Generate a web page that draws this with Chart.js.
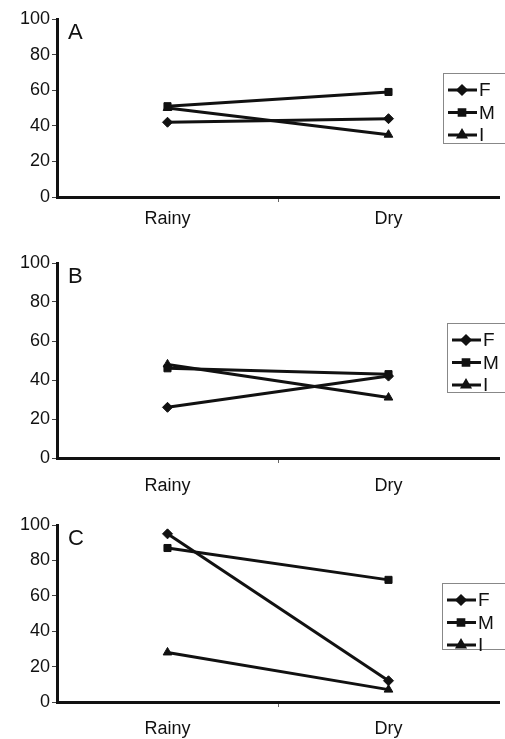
<!DOCTYPE html>
<html>
<head>
<meta charset="utf-8">
<script src="https://cdn.jsdelivr.net/npm/chart.js@4.4.0/dist/chart.umd.min.js"></script>
<style>
body{margin:0;background:#fff;}
canvas{position:absolute;left:0;}
</style>
</head>
<body>
<canvas id="chartA" width="505" height="245" style="top:0"></canvas>
<canvas id="chartB" width="505" height="262" style="top:240px"></canvas>
<canvas id="chartC" width="505" height="244" style="top:495px"></canvas>
<script>
const seasons = ['Rainy', 'Dry'];
const seriesNames = ['F', 'M', 'I'];
const yTicks = [0, 20, 40, 60, 80, 100];

const panelA_F = [42, 44];
const panelA_M = [51, 59];
const panelA_I = [50, 35];

const panelB_F = [26, 42];
const panelB_M = [46, 43];
const panelB_I = [48, 31];

const panelC_F = [95, 12];
const panelC_M = [87, 69];
const panelC_I = [28, 7];

const markers = ['rectRot', 'rect', 'triangle'];
const FONT = '"Liberation Sans", Arial, sans-serif';

// draws the boxed legend and the panel letter
const panelDeco = {
  id: 'panelDeco',
  afterDraw(chart, args, opts) {
    const c = chart.ctx;
    const area = chart.chartArea;
    c.save();
    c.fillStyle = '#111';
    c.font = '22px ' + FONT;
    c.textBaseline = 'middle';
    c.fillText(opts.letter, area.left + 11, area.top + 14);

    const b = opts.box;
    c.strokeStyle = '#888';
    c.lineWidth = 1;
    c.strokeRect(b.x + 0.5, b.y + 0.5, b.w, b.h);
    c.font = '19px ' + FONT;
    chart.data.datasets.forEach((ds, i) => {
      const y = b.y + 17 + i * 22.5;
      c.strokeStyle = '#111';
      c.lineWidth = 3;
      c.beginPath();
      c.moveTo(b.x + 5, y);
      c.lineTo(b.x + 34, y);
      c.stroke();
      c.fillStyle = '#111';
      Chart.helpers.drawPoint(c, {pointStyle: ds.pointStyle, radius: 4, rotation: 0, borderWidth: 1}, b.x + 19, y);
      c.fillText(ds.label, b.x + 36, y + 1);
    });
    c.restore();
  }
};

function makePanel(id, letter, F, M, I, top, xHeight, pad, box) {
  const vals = [F, M, I];
  new Chart(document.getElementById(id), {
    type: 'line',
    data: {
      labels: seasons,
      datasets: seriesNames.map((name, i) => ({
        label: name,
        data: vals[i],
        borderColor: '#111',
        backgroundColor: '#111',
        borderWidth: 3,
        pointStyle: markers[i],
        pointRadius: 5,
        pointBorderWidth: 1,
        tension: 0
      }))
    },
    options: {
      responsive: false,
      animation: false,
      layout: {padding: {top: top, right: 0, left: 0, bottom: 0}},
      plugins: {
        legend: {display: false},
        tooltip: {enabled: false},
        panelDeco: {letter: letter, box: box}
      },
      scales: {
        x: {
          offset: true,
          border: {display: true, color: '#111', width: 3},
          grid: {
            offset: true,
            drawOnChartArea: false,
            tickLength: 5,
            color: ctx => ctx.index === 1 ? '#666' : 'rgba(0,0,0,0)'
          },
          ticks: {color: '#111', font: {family: FONT, size: 18}, padding: pad},
          afterFit: s => { s.height = xHeight; }
        },
        y: {
          min: 0,
          max: 100,
          afterBuildTicks: s => { s.ticks = yTicks.map(v => ({value: v})); },
          border: {display: true, color: '#111', width: 3},
          grid: {drawOnChartArea: false, tickLength: 5, color: '#444'},
          ticks: {color: '#111', font: {family: FONT, size: 18}, padding: 2},
          afterFit: s => { s.width = 57; }
        }
      }
    },
    plugins: [panelDeco]
  });
}

makePanel('chartA', 'A', panelA_F, panelA_M, panelA_I, 19, 48, 6, {x: 443, y: 73, w: 70, h: 70});
makePanel('chartB', 'B', panelB_F, panelB_M, panelB_I, 23, 44, 12, {x: 447, y: 83, w: 70, h: 69});
makePanel('chartC', 'C', panelC_F, panelC_M, panelC_I, 30, 37, 11, {x: 442, y: 88, w: 70, h: 66});
</script>
</body>
</html>
